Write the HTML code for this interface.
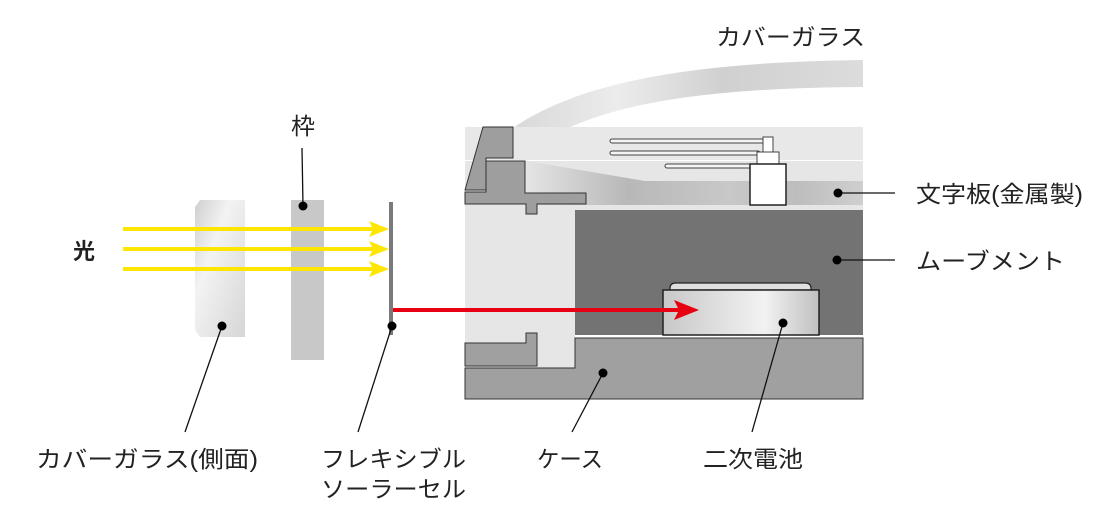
<!DOCTYPE html>
<html><head><meta charset="utf-8"><style>
html,body{margin:0;padding:0;background:#fff;}
svg{display:block}
text{font-family:"Liberation Sans","Noto Sans CJK JP",sans-serif;font-size:23px;fill:#222;}
</style></head><body>
<svg width="1110" height="516" viewBox="0 0 1110 516" xmlns="http://www.w3.org/2000/svg">
<defs>
<linearGradient id="gl" x1="0" y1="0" x2="1" y2="1"><stop offset="0" stop-color="#cfcfcf"/><stop offset="0.35" stop-color="#f3f3f3"/><stop offset="1" stop-color="#d6d6d6"/></linearGradient>
<linearGradient id="cg" x1="0" y1="0" x2="1" y2="0"><stop offset="0" stop-color="#d8d8d8"/><stop offset="0.3" stop-color="#ececec"/><stop offset="0.6" stop-color="#d0d0d0"/><stop offset="1" stop-color="#dcdcdc"/></linearGradient>
<linearGradient id="dg" x1="0" y1="0" x2="1" y2="0"><stop offset="0" stop-color="#e4e4e4"/><stop offset="0.3" stop-color="#b8b8b8"/><stop offset="0.6" stop-color="#c8c8c8"/><stop offset="0.8" stop-color="#bdbdbd"/><stop offset="1" stop-color="#cfcfcf"/></linearGradient>
<linearGradient id="bg" x1="0" y1="0" x2="1" y2="0"><stop offset="0" stop-color="#c8c8c8"/><stop offset="0.65" stop-color="#f2f2f2"/><stop offset="1" stop-color="#c0c0c0"/></linearGradient>
</defs>
<!-- cover glass arc -->
<path d="M513,128 C590,75 720,62 863,60 L863,87 C720,88 580,100 520,160 Z" fill="url(#cg)"/>
<!-- dial top area -->
<rect x="465" y="127" width="398" height="33" fill="#e8e8e8"/>
<rect x="465" y="161" width="398" height="44" fill="#e6e6e6"/>
<path d="M527,161 L645,181 L863,181 L863,205 L527,205 Z" fill="url(#dg)"/>
<!-- case light -->
<rect x="465" y="205" width="110" height="163" fill="#e6e6e6"/>
<rect x="465" y="205" width="398" height="5" fill="#e6e6e6"/>
<!-- movement -->
<rect x="575" y="210" width="288" height="125" fill="#737373"/>
<!-- bezel -->
<path d="M465,190 L483,127 L513,127 L513,158 L486,158 L486,190 Z" fill="#9e9e9e" stroke="#333" stroke-width="1"/>
<path d="M465,192 L486,192 L486,161 L525,161 L525,193 L586,193 L586,204 L537,204 L537,214 L526,214 L526,204 L465,204 Z" fill="#9e9e9e" stroke="#333" stroke-width="1"/>
<!-- hands -->
<g fill="#f4f4f4" stroke="#444" stroke-width="1">
<rect x="610" y="139" width="155" height="4" rx="2"/>
<rect x="610" y="151" width="150" height="4" rx="2"/>
<rect x="665" y="164" width="90" height="4" rx="2"/>
<rect x="763" y="137" width="10" height="15" fill="#fff"/>
<rect x="757" y="152" width="22" height="12" fill="#fff"/>
<rect x="750" y="164" width="36" height="41" fill="#fff" stroke="#222" stroke-width="1.5"/>
</g>
<!-- case bottom -->
<path d="M465,368 L575,368 L575,338 L863,338 L863,399 L465,399 Z" fill="#a0a0a0" stroke="#333" stroke-width="1"/>
<path d="M465,343 L526,343 L526,333 L537,333 L537,366 L465,366 Z" fill="#a0a0a0" stroke="#333" stroke-width="1"/>
<!-- battery -->
<path d="M670,290 L670,288 Q670,283 676,283 L805,283 Q811,283 811,288 L811,290 Z" fill="#e0e0e0" stroke="#222" stroke-width="1.2"/>
<rect x="663" y="290" width="156" height="45" fill="url(#bg)" stroke="#222" stroke-width="1.5"/>
<!-- left parts -->
<path d="M200,200 L245,200 L245,337 L200,337 L195,330 L195,207 Z" fill="url(#gl)"/>
<rect x="291" y="200" width="33" height="160" fill="#c8c8c8"/>
<rect x="389" y="202" width="4" height="133" fill="#7a7a7a"/>
<!-- yellow arrows -->
<g stroke="#ffe600" stroke-width="4"><line x1="123" y1="229" x2="375" y2="229"/><line x1="123" y1="249" x2="375" y2="249"/><line x1="123" y1="269" x2="375" y2="269"/></g>
<g fill="#ffe600"><path d="M369,221 L389,229 L369,237 L373,229Z"/><path d="M369,241 L389,249 L369,257 L373,249Z"/><path d="M369,261 L389,269 L369,277 L373,269Z"/></g>
<!-- red arrow -->
<line x1="393" y1="310" x2="680" y2="310" stroke="#e60012" stroke-width="4"/>
<path d="M674,300 L699,310 L674,320 L679,310Z" fill="#e60012"/>
<!-- leaders -->
<g stroke="#111" stroke-width="1.3">
<line x1="222" y1="326" x2="185" y2="432"/>
<line x1="303" y1="206" x2="302" y2="148"/>
<line x1="392" y1="326" x2="358" y2="432"/>
<line x1="603" y1="373" x2="572" y2="432"/>
<line x1="783" y1="323" x2="752" y2="432"/>
<line x1="838" y1="193" x2="895" y2="193"/>
<line x1="837" y1="260" x2="895" y2="260"/>
</g>
<g fill="#000">
<circle cx="222" cy="326" r="4.5"/><circle cx="303" cy="206" r="4.5"/><circle cx="392" cy="326" r="4.5"/>
<circle cx="603" cy="373" r="4.5"/><circle cx="783" cy="323" r="4.5"/><circle cx="838" cy="193" r="4.5"/><circle cx="837" cy="260" r="4.5"/>
</g>
<!-- labels -->
<text x="73" y="259" style="font-weight:bold;font-size:22px">光</text>
<text x="291" y="134" textLength="24" lengthAdjust="spacingAndGlyphs">枠</text>
<text x="716" y="45" textLength="149" lengthAdjust="spacingAndGlyphs">カバーガラス</text>
<text x="916" y="202" textLength="167" lengthAdjust="spacingAndGlyphs">文字板(金属製)</text>
<text x="916" y="269" textLength="149" lengthAdjust="spacingAndGlyphs">ムーブメント</text>
<text x="36" y="467" textLength="222" lengthAdjust="spacingAndGlyphs">カバーガラス(側面)</text>
<text x="321" y="467" textLength="145" lengthAdjust="spacingAndGlyphs">フレキシブル</text>
<text x="321" y="497" textLength="145" lengthAdjust="spacingAndGlyphs">ソーラーセル</text>
<text x="537" y="467" textLength="66" lengthAdjust="spacingAndGlyphs">ケース</text>
<text x="703" y="467" textLength="100" lengthAdjust="spacingAndGlyphs">二次電池</text>
</svg>
</body></html>
